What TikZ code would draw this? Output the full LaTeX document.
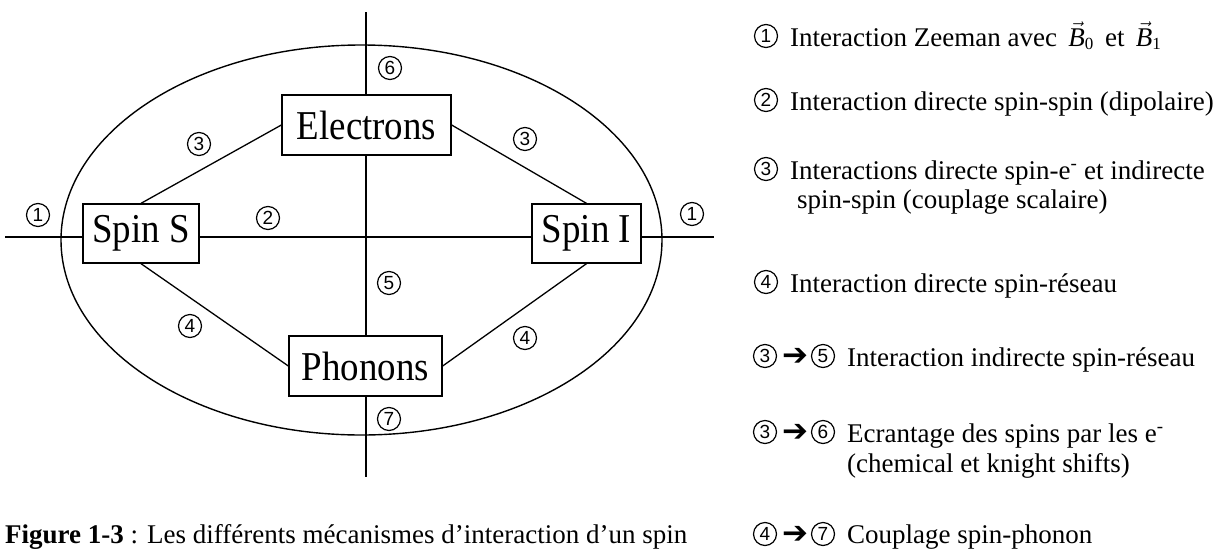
\documentclass[tikz,border=0pt]{standalone}
\usepackage{fontspec}
\setmainfont{Liberation Serif}
\newfontfamily\boxfont{Liberation Serif}[FakeStretch=0.9]
\newfontfamily\numfont{Liberation Sans}
\newfontfamily\dejavu{DejaVu Sans}
\usetikzlibrary{backgrounds}
\tikzset{
  box/.style={draw, line width=1.3pt, fill=white, inner sep=0pt, font=\boxfont\fontsize{41}{45}\selectfont},
  num/.style={draw, circle, line width=1.2pt, minimum size=23pt, inner sep=0pt, font=\numfont\fontsize{19}{19}\selectfont},
  lnk/.style={line width=1.3pt},
  leg/.style={anchor=base west, inner sep=0pt, font=\fontsize{27}{31}\selectfont},
  captext/.style={anchor=base west, inner sep=0pt, font=\fontsize{27}{31}\selectfont},
  arr/.style={inner sep=0pt, font=\dejavu\fontsize{31}{31}\selectfont}
}
\begin{document}
\begin{tikzpicture}[x=1pt,y=-1pt]
\useasboundingbox (0,0) rectangle (1226,552);
% boxes
\node[box, minimum width=169pt, minimum height=60pt] (el) at (366.5,125) {Electrons};
\node[box, minimum width=116pt, minimum height=59pt] (ss) at (141,233.5) {Spin S};
\node[box, minimum width=109pt, minimum height=59pt] (si) at (586.5,233.5) {Spin I};
\node[box, minimum width=153pt, minimum height=60pt] (ph) at (365.5,366) {Phonons};
\coordinate (hl) at (5,237);
\coordinate (hr) at (714,237);
\coordinate (vt) at (366,12);
\coordinate (vb) at (366,477);
\begin{scope}[on background layer]
  \fill[white] (0,0) rectangle (1226,552);
  \draw[lnk] (hl) -- (hr);
  \draw[lnk] (vt) -- (vb);
  \draw[line width=1.4pt] (361.5,240) ellipse [x radius=300.5, y radius=195];
  \draw[lnk] (ss.north) -- (el.west);
  \draw[lnk] (el.east) -- (si.north);
  \draw[lnk] (ss.south) -- (ph.west);
  \draw[lnk] (ph.east) -- (si.south);
\end{scope}
% numbers in diagram
\node[num] (n1l) at (38,215) {1};
\node[num] (n1r) at (692,214) {1};
\node[num] (n6) at (390,68) {6};
\node[num] (n3l) at (199,144) {3};
\node[num] (n3r) at (525,139) {3};
\node[num] (n2) at (268,218) {2};
\node[num] (n5) at (389,283) {5};
\node[num] (n4l) at (190,326) {4};
\node[num] (n4r) at (525,338) {4};
\node[num] (n7) at (389,419) {7};
% legend
\node[num] (l1) at (766,36) {1};
\node[leg] (t1) at (790,46) {Interaction Zeeman avec\, $\vec{\mbox{\itshape B}}_{\mbox{\fontsize{17}{17}\selectfont 0}}$\, et\, $\vec{\mbox{\itshape B}}_{\mbox{\fontsize{17}{17}\selectfont 1}}$};
\node[num] (l2) at (766,100) {2};
\node[leg] (t2) at (790,110) {Interaction directe spin-spin (dipolaire)};
\node[num] (l3) at (766,169) {3};
\node[leg] (t3) at (790,179) {Interactions directe spin-e\textsuperscript{-} et indirecte};
\node[leg] (t3b) at (797,208) {spin-spin (couplage scalaire)};
\node[num] (l4) at (766,282) {4};
\node[leg] (t4) at (790,292) {Interaction directe spin-réseau};
\node[num] (l5a) at (765,356) {3};
\node[arr] (a5) at (795,357) {➔};
\node[num] (l5b) at (823,356) {5};
\node[leg] (t5) at (847,366) {Interaction indirecte spin-réseau};
\node[num] (l6a) at (765,432) {3};
\node[arr] (a6) at (795,433) {➔};
\node[num] (l6b) at (823,432) {6};
\node[leg] (t6) at (847,442) {Ecrantage des spins par les e\textsuperscript{-}};
\node[leg] (t6b) at (847,472) {(chemical et knight shifts)};
\node[num] (l7a) at (765,534) {4};
\node[arr] (a7) at (795,535) {➔};
\node[num] (l7b) at (823,534) {7};
\node[leg] (t7) at (847,543) {Couplage spin-phonon};
% caption
\node[captext] (cp) at (5,543) {\textbf{Figure 1-3} : Les différents mécanismes d’interaction d’un spin};
\end{tikzpicture}
\end{document}
